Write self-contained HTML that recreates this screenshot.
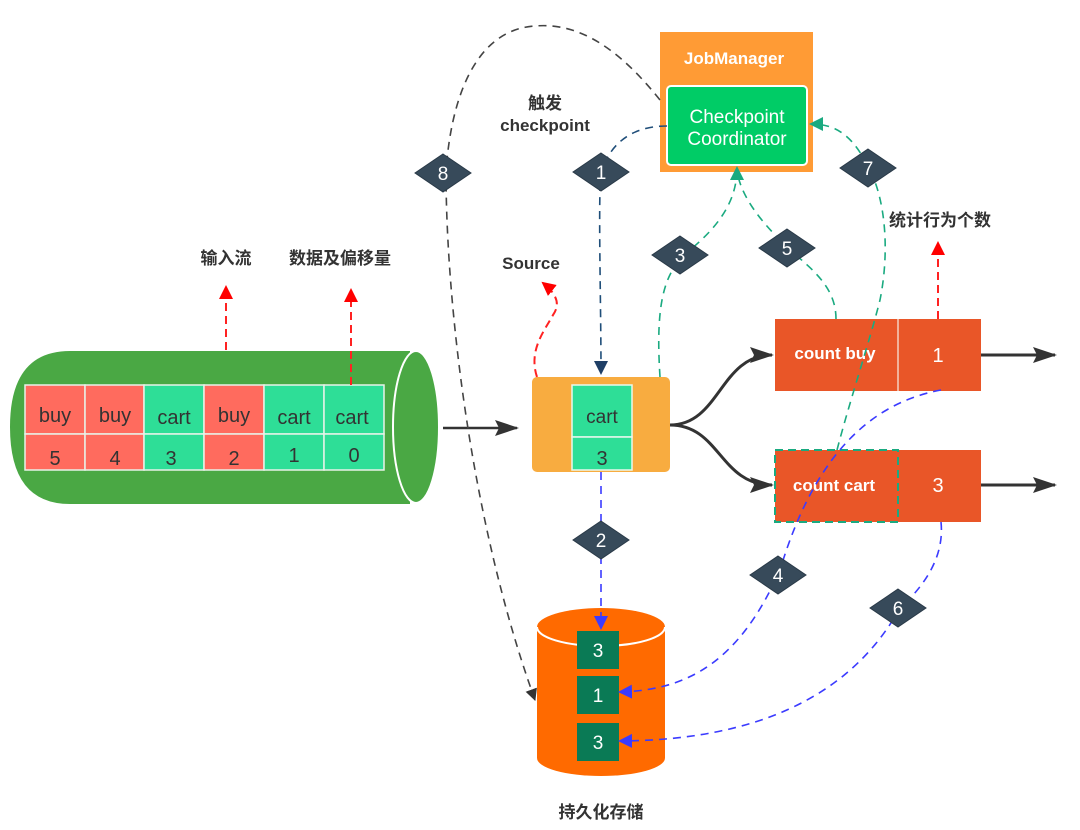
<!DOCTYPE html>
<html><head><meta charset="utf-8"><style>
html,body{margin:0;padding:0;background:#fff;}
svg{display:block;font-family:"Liberation Sans","Noto Sans CJK SC",sans-serif;}
.b{font-weight:bold;fill:#333;font-size:17px;}
</style></head><body>
<svg width="1080" height="830" viewBox="0 0 1080 830" xmlns="http://www.w3.org/2000/svg">
<defs>
<marker id="ak" markerWidth="12" markerHeight="14" refX="11" refY="6" orient="auto" markerUnits="userSpaceOnUse"><path d="M0,0 L12,6 L0,12 z" fill="#333"/></marker>
<marker id="akb" markerWidth="24" markerHeight="16" refX="22" refY="8" orient="auto" markerUnits="userSpaceOnUse"><path d="M0,0 L24,8 L0,16 L4,8 z" fill="#333"/></marker>
<marker id="ar" markerWidth="14" markerHeight="16" refX="12" refY="7" orient="auto" markerUnits="userSpaceOnUse"><path d="M0,0 L14,7 L0,14 z" fill="#f00"/></marker>
<marker id="ag" markerWidth="14" markerHeight="16" refX="12" refY="7" orient="auto" markerUnits="userSpaceOnUse"><path d="M0,0 L14,7 L0,14 z" fill="#1aaa80"/></marker>
<marker id="ad" markerWidth="14" markerHeight="16" refX="12" refY="7" orient="auto" markerUnits="userSpaceOnUse"><path d="M0,0 L14,7 L0,14 z" fill="#1f3f66"/></marker>
<marker id="au" markerWidth="14" markerHeight="16" refX="12" refY="7" orient="auto" markerUnits="userSpaceOnUse"><path d="M0,0 L14,7 L0,14 z" fill="#3b3bff"/></marker>
</defs>

<!-- pipe -->
<path d="M410,351 L70,351 Q10,351 10,427 Q10,504 70,504 L410,504 Z" fill="#4aa844"/>
<ellipse cx="416" cy="427" rx="23" ry="76" fill="#4aa844" stroke="#fff" stroke-width="2"/>
<g stroke="#e8f2e8" stroke-width="1.5">
<rect x="25" y="385" width="60" height="49" fill="#ff6b5e"/><rect x="25" y="434" width="60" height="36" fill="#ff6b5e"/>
<rect x="85" y="385" width="59" height="49" fill="#ff6b5e"/><rect x="85" y="434" width="59" height="36" fill="#ff6b5e"/>
<rect x="144" y="385" width="60" height="49" fill="#2ede97"/><rect x="144" y="434" width="60" height="36" fill="#2ede97"/>
<rect x="204" y="385" width="60" height="49" fill="#ff6b5e"/><rect x="204" y="434" width="60" height="36" fill="#ff6b5e"/>
<rect x="264" y="385" width="60" height="49" fill="#2ede97"/><rect x="264" y="434" width="60" height="36" fill="#2ede97"/>
<rect x="324" y="385" width="60" height="49" fill="#2ede97"/><rect x="324" y="434" width="60" height="36" fill="#2ede97"/>
</g>
<g font-size="20" fill="#333" text-anchor="middle">
<text x="55" y="422">buy</text><text x="115" y="422">buy</text><text x="174" y="424">cart</text><text x="234" y="422">buy</text><text x="294" y="424">cart</text><text x="352" y="424">cart</text>
<text x="55" y="465">5</text><text x="115" y="465">4</text><text x="171" y="465">3</text><text x="234" y="465">2</text><text x="294" y="462">1</text><text x="354" y="462">0</text>
</g>
<line x1="443" y1="428" x2="517" y2="428" stroke="#333" stroke-width="2.5" marker-end="url(#akb)"/>

<!-- labels -->
<text class="b" x="226" y="264" text-anchor="middle" font-size="16">输入流</text>
<text class="b" x="340" y="264" text-anchor="middle" font-size="16">数据及偏移量</text>
<text class="b" x="531" y="269" text-anchor="middle">Source</text>
<text class="b" x="545" y="109" text-anchor="middle" font-size="16">触发</text>
<text class="b" x="545" y="131" text-anchor="middle">checkpoint</text>
<text class="b" x="940" y="226" text-anchor="middle" font-size="16">统计行为个数</text>
<text class="b" x="601" y="818" text-anchor="middle" font-size="17">持久化存储</text>

<!-- red arrows -->
<g stroke="#f22" stroke-width="2" stroke-dasharray="8,5" fill="none">
<line x1="226" y1="350" x2="226" y2="287" marker-end="url(#ar)"/>
<line x1="351" y1="385" x2="351" y2="290" marker-end="url(#ar)"/>
<path d="M537,377 C528,350 545,330 553,315 C560,305 558,295 543,283" marker-end="url(#ar)"/>
<line x1="938" y1="319" x2="938" y2="243" marker-end="url(#ar)"/>
</g>

<!-- JobManager -->
<rect x="660" y="32" width="153" height="140" fill="#ff9b35"/>
<text x="734" y="64" text-anchor="middle" fill="#fff" font-weight="bold" font-size="17">JobManager</text>
<rect x="667" y="86" width="140" height="79" rx="4" fill="#00cc66" stroke="#fff" stroke-width="2"/>
<text x="737" y="123" text-anchor="middle" fill="#fff" font-size="19">Checkpoint</text>
<text x="737" y="145" text-anchor="middle" fill="#fff" font-size="19">Coordinator</text>

<!-- Source box -->
<rect x="532" y="377" width="138" height="95" rx="5" fill="#f8ac40"/>
<rect x="572" y="385" width="60" height="52" fill="#2ede97" stroke="#e8f8ee" stroke-width="1.5"/>
<rect x="572" y="437" width="60" height="33" fill="#2ede97" stroke="#e8f8ee" stroke-width="1.5"/>
<text x="602" y="423" text-anchor="middle" font-size="19" fill="#333">cart</text>
<text x="602" y="465" text-anchor="middle" font-size="20" fill="#333">3</text>

<!-- curves to counters -->
<g stroke="#333" stroke-width="3" fill="none">
<path d="M670,425 C720,425 720,355 772,355" marker-end="url(#akb)"/>
<path d="M670,425 C720,425 720,485 772,485" marker-end="url(#akb)"/>
<line x1="981" y1="355" x2="1055" y2="355" marker-end="url(#akb)"/>
<line x1="981" y1="485" x2="1055" y2="485" marker-end="url(#akb)"/>
</g>

<!-- counters -->
<rect x="775" y="319" width="206" height="72" fill="#e95628"/>
<line x1="898" y1="319" x2="898" y2="391" stroke="#f5d0c0" stroke-width="1.5"/>
<text x="835" y="359" text-anchor="middle" fill="#fff" font-weight="bold" font-size="17">count  buy</text>
<text x="938" y="362" text-anchor="middle" fill="#fff" font-size="20">1</text>
<rect x="775" y="450" width="206" height="72" fill="#e95628"/>
<rect x="775" y="450" width="123" height="72" fill="none" stroke="#1aaa80" stroke-width="2" stroke-dasharray="8,5"/>
<text x="834" y="491" text-anchor="middle" fill="#fff" font-weight="bold" font-size="17">count cart</text>
<text x="938" y="492" text-anchor="middle" fill="#fff" font-size="20">3</text>

<!-- storage cylinder -->
<path d="M537,627 L537,758 A64,18 0 0 0 665,758 L665,627 Z" fill="#ff6a00"/>
<ellipse cx="601" cy="627" rx="64" ry="19" fill="#ff6a00"/>
<path d="M537,627 A64,19 0 0 0 665,627" fill="none" stroke="#fff" stroke-width="2"/>
<rect x="577" y="631" width="42" height="38" fill="#0a7a55"/>
<rect x="577" y="676" width="42" height="38" fill="#0a7a55"/>
<rect x="577" y="723" width="42" height="38" fill="#0a7a55"/>
<g fill="#fff" font-size="19" text-anchor="middle"><text x="598" y="657">3</text><text x="598" y="702">1</text><text x="598" y="749">3</text></g>

<!-- dashed flows -->
<g fill="none" stroke-width="1.6" stroke-dasharray="8,6">
<path d="M660,100 C620,50 580,22 535,26 C470,30 450,110 446,172 C446,300 470,520 535,700" stroke="#444" marker-end="url(#ak)"/>
<path d="M667,126 C630,126 610,145 601,172 C598,200 601,300 601,373" stroke="#1f4e79" marker-end="url(#ad)"/>
<path d="M601,472 L601,628" stroke="#3b3bff" marker-end="url(#au)"/>
<path d="M660,377 C655,300 665,270 690,250 C720,225 737,200 737,168" stroke="#1aaa80" marker-end="url(#ag)"/>
<path d="M836,319 C836,280 800,262 780,240 C760,220 740,195 737,170" stroke="#1aaa80"/>
<path d="M837,450 C850,400 870,340 880,300 C890,250 885,200 870,170 C855,140 840,124 811,124" stroke="#1aaa80" marker-end="url(#ag)"/>
<path d="M941,390 C860,405 810,470 780,570 C740,660 690,690 620,692" stroke="#3b3bff" marker-end="url(#au)"/>
<path d="M941,522 C945,560 920,590 900,608 C860,680 780,740 620,741" stroke="#3b3bff" marker-end="url(#au)"/>
</g>

<!-- diamonds -->
<g fill="#374a5a" stroke="#2a3a48" stroke-width="1">
<path d="M601,153 L629,172 L601,191 L573,172 Z"/>
<path d="M601,521 L629,540 L601,559 L573,540 Z"/>
<path d="M680,236 L708,255 L680,274 L652,255 Z"/>
<path d="M778,556 L806,575 L778,594 L750,575 Z"/>
<path d="M787,229 L815,248 L787,267 L759,248 Z"/>
<path d="M898,589 L926,608 L898,627 L870,608 Z"/>
<path d="M868,149 L896,168 L868,187 L840,168 Z"/>
<path d="M443,154 L471,173 L443,192 L415,173 Z"/>
</g>
<g fill="#fff" font-size="19" text-anchor="middle">
<text x="601" y="179">1</text><text x="601" y="547">2</text><text x="680" y="262">3</text><text x="778" y="582">4</text>
<text x="787" y="255">5</text><text x="898" y="615">6</text><text x="868" y="175">7</text><text x="443" y="180">8</text>
</g>
</svg>
</body></html>
